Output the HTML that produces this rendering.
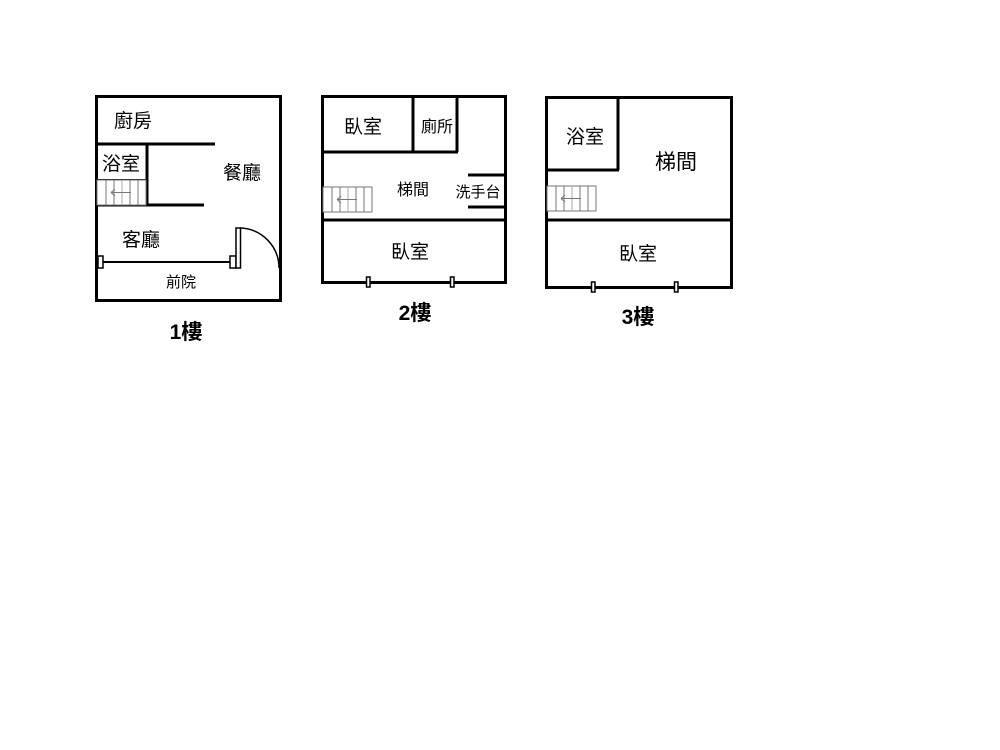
<!DOCTYPE html>
<html><head><meta charset="utf-8"><style>
html,body{margin:0;padding:0;background:#fff;}
svg{display:block}
text{font-family:"Liberation Sans","Noto Sans CJK TC",sans-serif;fill:#000}
</style></head><body>
<svg width="1000" height="750" viewBox="0 0 1000 750" xmlns="http://www.w3.org/2000/svg">
<defs>
<g id="st">
  <rect x="0" y="0" width="49" height="25" fill="#fff" stroke="#777" stroke-width="1"/>
  <line x1="9" y1="0" x2="9" y2="25" stroke="#777"/>
  <line x1="17" y1="0" x2="17" y2="25" stroke="#777"/>
  <line x1="25" y1="0" x2="25" y2="25" stroke="#aaa"/>
  <line x1="33" y1="0" x2="33" y2="25" stroke="#777"/>
  <line x1="41" y1="0" x2="41" y2="25" stroke="#777"/>
  <line x1="14" y1="12.5" x2="34" y2="12.5" stroke="#777"/>
  <path d="M14 12.5 L18 9 M14 12.5 L18 16" stroke="#777" fill="none"/>
</g>
</defs>
<g stroke="#000" stroke-width="3" fill="none">
<!-- plan 1 -->
<rect x="96.5" y="96.5" width="184" height="204"/>
<line x1="96" y1="144" x2="215" y2="144"/>
<line x1="147" y1="144" x2="147" y2="205"/>
<line x1="96" y1="180" x2="147" y2="180" stroke-width="2"/>
<line x1="96" y1="205" x2="204" y2="205"/>
<line x1="100" y1="262" x2="232" y2="262" stroke-width="2"/>
<rect x="98" y="256" width="5" height="12" stroke-width="1.5" fill="#fff"/>
<rect x="230" y="256" width="6" height="12" stroke-width="1.5" fill="#fff"/>
<rect x="236" y="228" width="4.5" height="40" stroke-width="1.5" fill="#fff"/>
<path d="M240 228 A 40 40 0 0 1 279 268" stroke-width="1.5"/>
<!-- plan 2 -->
<rect x="322.5" y="96.5" width="183" height="186"/>
<line x1="322" y1="152" x2="458" y2="152"/>
<line x1="413" y1="96" x2="413" y2="152"/>
<line x1="457" y1="96" x2="457" y2="152"/>
<line x1="468" y1="175" x2="506" y2="175"/>
<line x1="468" y1="207" x2="506" y2="207"/>
<line x1="322" y1="220" x2="506" y2="220"/>
<!-- plan 3 -->
<rect x="546.5" y="97.5" width="185" height="190"/>
<line x1="546" y1="170" x2="619" y2="170"/>
<line x1="618" y1="97" x2="618" y2="170"/>
<line x1="546" y1="220" x2="732" y2="220"/>
</g>
<use href="#st" x="97" y="180"/>
<use href="#st" x="323" y="187"/>
<use href="#st" x="547" y="186"/>
<g stroke="#000" stroke-width="1.5" fill="#fff">
<rect x="366.5" y="277" width="3.5" height="10"/>
<rect x="450.5" y="277" width="3.5" height="10"/>
<rect x="591.5" y="282" width="3.5" height="10"/>
<rect x="674.5" y="282" width="3.5" height="10"/>
</g>
<g font-size="19">
<text x="133" y="127" text-anchor="middle">廚房</text>
<text x="121" y="170" text-anchor="middle">浴室</text>
<text x="242" y="179" text-anchor="middle">餐廳</text>
<text x="141" y="246" text-anchor="middle">客廳</text>
<text x="363" y="133" text-anchor="middle">臥室</text>
<text x="410" y="258" text-anchor="middle">臥室</text>
<text x="585" y="143" text-anchor="middle">浴室</text>
<text x="638" y="260" text-anchor="middle">臥室</text>
</g>
<text x="437" y="132" font-size="16" text-anchor="middle">廁所</text>
<text x="413" y="195" font-size="16" text-anchor="middle">梯間</text>
<text x="478" y="197" font-size="15" text-anchor="middle">洗手台</text>
<text x="181" y="287" font-size="15" text-anchor="middle">前院</text>
<text x="676" y="169" font-size="21" text-anchor="middle">梯間</text>
<g font-size="21" font-weight="bold">
<text x="186" y="339" text-anchor="middle">1樓</text>
<text x="415" y="320" text-anchor="middle">2樓</text>
<text x="638" y="324" text-anchor="middle">3樓</text>
</g>
</svg>
</body></html>
